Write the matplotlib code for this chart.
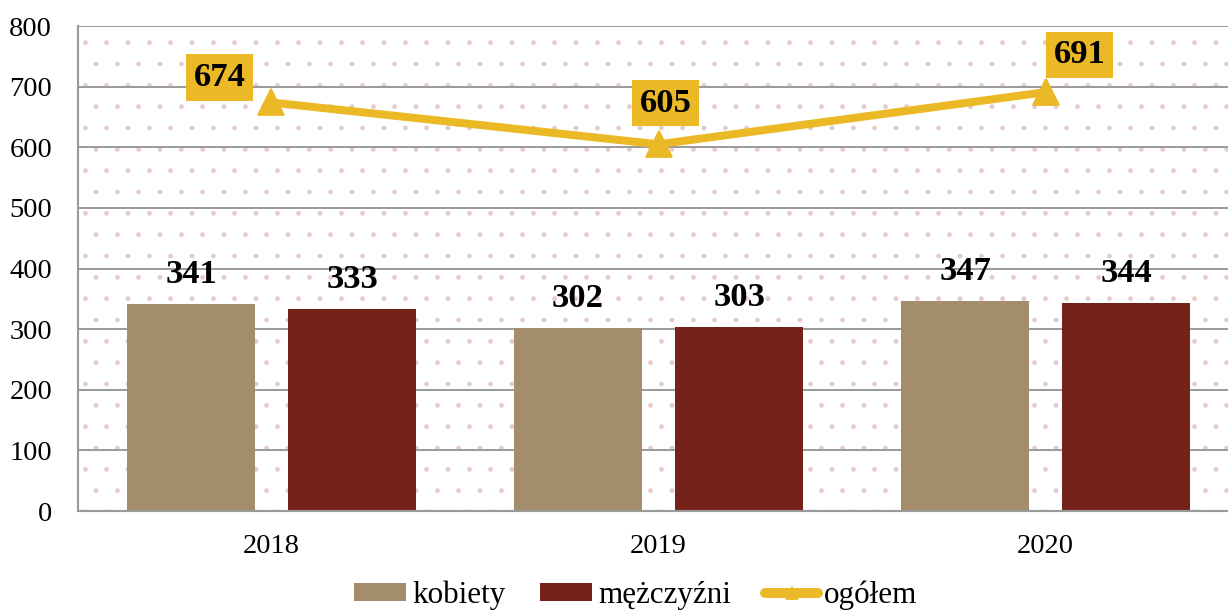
import matplotlib.pyplot as plt
import numpy as np
from matplotlib.patches import Rectangle

plt.rcParams['font.family'] = ['Liberation Serif', 'DejaVu Serif']
plt.rcParams['hatch.linewidth'] = 0.3
plt.rcParams['hatch.color'] = '#E8CACA'

years = ['2018', '2019', '2020']
kobiety = [341, 302, 347]
mezczyzni = [333, 303, 344]
ogolem = [674, 605, 691]

# label box offsets (points) as placed in the original
box_offsets = [(-29, 14), (4, 23), (19, 21)]

c_kob = '#A38D6A'
c_men = '#74221A'
c_tot = '#EBB826'

DPI = 128
fig = plt.figure(figsize=(1228 / DPI, 615 / DPI), dpi=DPI)
ax = fig.add_axes([0.0635, 0.169, 0.9455, 0.7886])

# dotted background
bg = Rectangle((0, 0), 1, 1, transform=ax.transAxes, facecolor='white',
               edgecolor='#E8CACA', hatch='.', lw=0, zorder=0)
ax.add_patch(bg)

x = np.arange(len(years))
w = 0.333
off = 0.208
b1 = ax.bar(x - off, kobiety, w, color=c_kob, zorder=2, label='kobiety')
b2 = ax.bar(x + off, mezczyzni, w, color=c_men, zorder=2, label='mężczyźni')
ln, = ax.plot(x, ogolem, color=c_tot, lw=4.5, marker='^', markersize=15,
              zorder=3, label='ogółem')

for bars in (b1, b2):
    for r in bars:
        ax.annotate(f'{int(r.get_height())}',
                    (r.get_x() + r.get_width() / 2, r.get_height()),
                    xytext=(0, 16.6), textcoords='offset points',
                    ha='center', va='center', fontsize=19.4, fontweight='bold')

for xi, v, (dx, dy) in zip(x, ogolem, box_offsets):
    ax.annotate(f'{v}', (xi, v), xytext=(dx, dy), textcoords='offset points',
                ha='center', va='center', fontsize=19.4, fontweight='bold',
                bbox=dict(boxstyle='square,pad=0.22', fc=c_tot, ec='none'),
                zorder=4)

ax.set_xlim(-0.5, 2.5)
ax.set_ylim(0, 800)
ax.set_yticks(range(0, 801, 100))
ax.set_xticks(x)
ax.set_xticklabels(years)
ax.tick_params(axis='y', length=0, pad=14.5, labelsize=16)
ax.tick_params(axis='x', length=0, pad=13, labelsize=16)
ax.grid(axis='y', color='#9A9A9A', lw=1.1, zorder=1)
ax.set_axisbelow(True)
for s in ('top', 'right'):
    ax.spines[s].set_visible(False)
for s in ('left', 'bottom'):
    ax.spines[s].set_color('#9A9A9A')
    ax.spines[s].set_linewidth(1.2)

leg = fig.legend(handles=[b1, b2, ln], loc='center',
                 bbox_to_anchor=(0.5175, 0.032), ncol=3,
                 frameon=False, fontsize=17.5, handlelength=1.68,
                 handleheight=0.52, handletextpad=0.2, columnspacing=1.1,
                 borderpad=0.1)
for h in leg.get_lines():
    h.set_markersize(7)
    h.set_linewidth(5.6)
    h.set_solid_capstyle('round')

fig.savefig('out.png', dpi=DPI)
